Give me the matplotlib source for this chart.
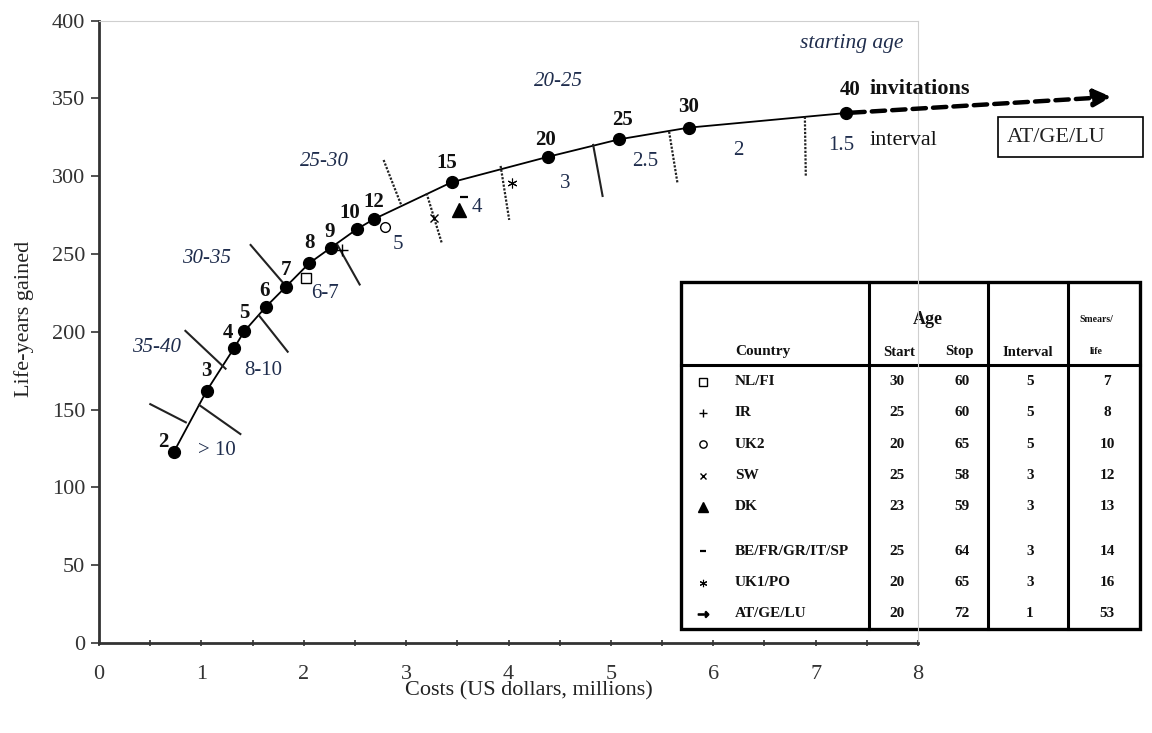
import matplotlib
matplotlib.use('Agg')
import matplotlib.pyplot as plt
from matplotlib.patches import Rectangle

plt.rcParams['font.family'] = ['Liberation Serif', 'DejaVu Serif']

# ---------------- data ----------------
invitations = [2, 3, 4, 5, 6, 7, 8, 9, 10, 12, 15, 20, 25, 30, 40]
costs = [0.732, 1.052, 1.318, 1.419, 1.631, 1.826, 2.054, 2.266, 2.517, 2.688,
         3.444, 4.388, 5.081, 5.759, 7.295]
life_years = [122.9, 162.1, 189.4, 200.3, 216.1, 229.0, 244.1, 254.1, 265.9, 272.5,
              296.1, 312.5, 323.7, 331.2, 340.6]

countries = ['NL/FI', 'IR', 'UK2', 'SW', 'DK', 'BE/FR/GR/IT/SP', 'UK1/PO', 'AT/GE/LU']
age_start = [30, 25, 20, 25, 23, 25, 20, 20]
age_stop = [60, 60, 65, 58, 59, 64, 65, 72]
interval_years = [5, 5, 5, 3, 3, 3, 3, 1]
smears_life = [7, 8, 10, 12, 13, 14, 16, 53]
country_cost = [2.021, 2.370, 2.793, 3.271, 3.516, 3.567, 4.030]
country_ly = [234.4, 252.6, 267.5, 272.9, 278.3, 286.4, 295.4]
atgelu_end = (9.89, 351.0)

# interval boundary segments ((x0, y0), (x1, y1), dotted?)
boundaries = [
    ((0.501, 153.5), (0.848, 141.8), False),
    ((0.978, 153.0), (1.381, 134.3), False),
    ((0.844, 200.6), (1.236, 176.3), False),
    ((1.481, 255.8), (1.816, 230.1), False),
    ((1.565, 210.3), (1.843, 187.2), False),
    ((2.329, 255.8), (2.546, 230.4), False),
    ((2.780, 310.4), (2.956, 280.8), True),
    ((3.200, 289.0), (3.347, 257.3), True),
    ((3.923, 306.6), (4.007, 271.9), True),
    ((4.827, 320.1), (4.919, 287.3), False),
    ((5.569, 328.6), (5.651, 295.4), True),
    ((6.895, 338.2), (6.904, 300.1), True),
]

# starting-age range labels (italic)
age_ranges = ['35-40', '30-35', '25-30', '20-25']
age_range_pos = [(0.563, 190.0), (1.052, 247.2), (2.207, 309.3), (4.485, 360.7)]

# screening interval labels
interval_labels = ['> 10', '8-10', '6-7', '5', '4', '3', '2.5', '2', '1.5']
interval_pos = [(1.149, 124.0), (1.604, 175.4), (2.207, 224.7), (2.923, 255.8),
                (3.688, 280.0), (4.551, 295.0), (5.332, 309.3), (6.243, 316.8),
                (7.253, 320.0)]

# point label offsets (points)
label_offsets = [(-7.9, 7.2), (0, 14.4), (-4.3, 10.8), (0, 13), (-1.4, 11.5), (0, 12.2),
                 (0, 14.4), (-0.7, 11.5), (-5, 11.5), (0, 12.2), (-3.6, 13.7),
                 (-2.2, 12.2), (2.2, 13.7), (0, 15.1), (2.9, 16.6)]

# marker styles per country
mstyles = [
    dict(marker='s', mfc='white', mec='black', mew=1.0, ms=7),
    dict(marker='+', color='black', mew=1.0, ms=8),
    dict(marker='o', mfc='white', mec='black', mew=1.0, ms=7),
    dict(marker='x', color='black', mew=1.0, ms=6),
    dict(marker='^', color='black', ms=10),
    dict(marker='_', color='black', mew=1.6, ms=6),
    dict(marker=(6, 2, 0), color='black', mew=0.8, ms=7),
    dict(marker=r'$\rightarrow$', color='black', ms=10),
]

NAVY = '#1f2d4d'

fig = plt.figure(figsize=(11.52, 7.33), dpi=100)
W, H = 1152, 733
ax = fig.add_axes([99 / W, (H - 643) / H, (918 - 99) / W, (643 - 20.6) / H])
ax.set_zorder(2)
ax.patch.set_alpha(0)

ax.set_xlim(0, 8)
ax.set_ylim(0, 400)
ax.set_xticks(range(0, 9))
ax.set_xticks([i + 0.5 for i in range(8)], minor=True)
ax.set_yticks(range(0, 401, 50))
ax.tick_params(axis='x', which='both', direction='inout', length=5, width=1.2,
               labelsize=16, pad=13, colors='#333333')
ax.tick_params(axis='y', which='major', direction='out', length=6, width=1.2,
               labelsize=16, pad=4, colors='#333333')
for s in ['left', 'bottom']:
    ax.spines[s].set_color('#333333')
    ax.spines[s].set_linewidth(2)
for s in ['top', 'right']:
    ax.spines[s].set_color('#cfcfcf')
    ax.spines[s].set_linewidth(0.8)

# curve
ax.plot(costs, life_years, color='black', lw=1.3, zorder=3)
ax.plot(costs, life_years, 'o', color='black', ms=8.5, zorder=4)

# boundaries
for (p0, p1, dotted) in boundaries:
    ax.plot([p0[0], p1[0]], [p0[1], p1[1]], color='#222222',
            lw=1.6 if dotted else 1.5,
            linestyle=(0, (1, 0.7)) if dotted else '-', zorder=3)

# country markers
for cx, cy, st in zip(country_cost, country_ly, mstyles[:7]):
    ax.plot([cx], [cy], linestyle='none', zorder=5, **st)

# point labels
for n, x, y, off in zip(invitations, costs, life_years, label_offsets):
    ax.annotate(str(n), (x, y), xytext=off, textcoords='offset points',
                ha='center', va='center', fontsize=15, fontweight='bold', color='#111111')

for t, (x, y) in zip(age_ranges, age_range_pos):
    ax.text(x, y, t, ha='center', va='center', fontsize=15, style='italic', color=NAVY)
for t, (x, y) in zip(interval_labels, interval_pos):
    ax.text(x, y, t, ha='center', va='center', fontsize=15, color=NAVY)

ax.text(7.35, 385.4, 'starting age', ha='center', va='center', fontsize=15.5,
        style='italic', color=NAVY, clip_on=False)
ax.text(7.53, 355.8, 'invitations', ha='left', va='center', fontsize=16,
        fontweight='bold', color='#111111', clip_on=False)
ax.text(7.53, 323.0, 'interval', ha='left', va='center', fontsize=16,
        color='#111111', clip_on=False)

# AT/GE/LU dashed arrow
ax.annotate('', xy=atgelu_end, xytext=(costs[-1], life_years[-1]),
            arrowprops=dict(arrowstyle='-|>', linestyle=(0, (3, 1.6)), lw=3.2,
                            color='black', mutation_scale=26, shrinkA=4, shrinkB=0),
            annotation_clip=False, zorder=4)
fig.patches.append(Rectangle((998 / W, 1 - 157.3 / H), (1143 - 998) / W, 40.6 / H,
                             transform=fig.transFigure, fill=False, ec='black', lw=1.2))
fig.text(1007 / W, 1 - 137 / H, countries[-1], ha='left', va='center', fontsize=16,
         color='#222222')

# axis labels
fig.text(24 / W, 1 - 319 / H, 'Life-years gained', rotation=90, ha='center',
         va='center', fontsize=16, color='#222222')
fig.text(529 / W, 1 - 691 / H, 'Costs (US dollars, millions)', ha='center',
         va='center', fontsize=16, color='#222222')

# ---------------- table ----------------
tl, tt, tr, tb = 681, 282, 1140, 629
axt = fig.add_axes([tl / W, 1 - tb / H, (tr - tl) / W, (tb - tt) / H])
axt.set_zorder(1)
axt.set_xlim(0, tr - tl)
axt.set_ylim(tb - tt, 0)
axt.axis('off')
tw, th = tr - tl, tb - tt
axt.add_patch(Rectangle((0, 0), tw, th, fc='white', ec='black', lw=2.4, clip_on=False))
for xc in [188, 307, 387]:
    axt.plot([xc, xc], [0, th], color='black', lw=2.2, clip_on=False)
axt.plot([0, tw], [83, 83], color='black', lw=2.2, clip_on=False)

hdr = dict(fontweight='bold', color='#111111', va='center')
axt.text(247, 37, 'Age', ha='center', fontsize=13, **hdr)
axt.text(415, 37, 'Smears/', ha='center', fontsize=7, **hdr)
axt.text(54, 70, 'Country', ha='left', fontsize=11, **hdr)
axt.text(218, 70, 'Start', ha='center', fontsize=10.5, **hdr)
axt.text(278, 70, 'Stop', ha='center', fontsize=10.5, **hdr)
axt.text(347, 70, 'Interval', ha='center', fontsize=10.5, **hdr)
axt.text(415, 70, 'life', ha='center', fontsize=7, **hdr)

row_y = [99.7 + 31.3 * i + (13 if i >= 5 else 0) for i in range(len(countries))]
for i, y in enumerate(row_y):
    st = dict(mstyles[i])
    st['ms'] = st.get('ms', 7) * 0.75
    axt.plot([22], [y], linestyle='none', clip_on=False, **st)
    axt.text(54, y, countries[i], ha='left', fontsize=11, **hdr)
    axt.text(216, y, str(age_start[i]), ha='center', fontsize=11, **hdr)
    axt.text(281, y, str(age_stop[i]), ha='center', fontsize=11, **hdr)
    axt.text(349, y, str(interval_years[i]), ha='center', fontsize=11, **hdr)
    axt.text(426, y, str(smears_life[i]), ha='center', fontsize=11, **hdr)

fig.savefig('out.png', dpi=100)
